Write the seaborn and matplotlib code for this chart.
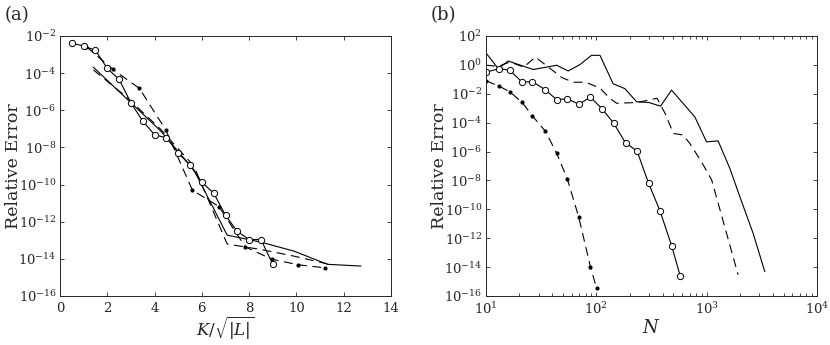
import numpy as np
import pandas as pd
import matplotlib
matplotlib.use("Agg")
import matplotlib.pyplot as plt
import seaborn as sns

# ---- panel (a): error vs K/sqrt(|L|) ----
a_circ_x = [0.5, 1.0, 1.5, 2.0, 2.5, 3.0, 3.5, 4.0, 4.5, 5.0, 5.5, 6.0, 6.5, 7.0, 7.5, 8.0, 8.5, 9.0]
a_circ_y = [4.1e-3, 2.9e-3, 1.7e-3, 1.8e-4, 4.6e-5, 2.5e-6, 2.6e-7, 4.8e-8, 3.3e-8, 5.1e-9,
            1.1e-9, 1.3e-10, 3.5e-11, 2.2e-12, 3.0e-13, 1.1e-13, 1.1e-13, 5.1e-15]

a_dot_x = [1.12, 2.24, 3.36, 4.48, 5.6, 6.72, 7.84, 8.96, 10.08, 11.2]
a_dot_y = [2.6e-3, 1.6e-4, 1.5e-5, 8.5e-8, 5.0e-11, 6.6e-12, 4.4e-14, 9.5e-15, 4.8e-15, 3.3e-15]

a_solid_x = [1.41, 2.83, 4.24, 5.66, 7.07, 8.49, 9.9, 11.31, 12.73]
a_solid_y = [2.1e-4, 4.1e-6, 8.1e-8, 6.3e-10, 1.9e-13, 8.0e-14, 2.6e-14, 5.1e-15, 4.1e-15]

a_dash_x = [1.41, 2.83, 4.24, 5.66, 7.07, 8.49, 9.9, 11.31]
a_dash_y = [1.5e-4, 5.0e-6, 1.0e-7, 1.0e-9, 6.3e-14, 3.2e-14, 1.4e-14, 5.4e-15]

# ---- panel (b): error vs N ----
b_circ_x = [10.1, 13.2, 16.4, 21.3, 26.3, 34.5, 43.6, 54.6, 69.4, 88.6, 113, 144, 184, 234, 298, 379, 482, 577]
b_circ_y = [0.32, 0.55, 0.43, 0.063, 0.07, 0.019, 4.0e-3, 4.5e-3, 1.9e-3, 5.8e-3, 9.0e-4, 9.0e-5,
            4.0e-6, 1.1e-6, 6.3e-9, 7.3e-11, 3.0e-13, 2.3e-15]

b_dot_x = [10.1, 13.2, 16.4, 21.3, 26.3, 34.5, 43.6, 54.6, 69.4, 88.6, 100.6]
b_dot_y = [0.078, 0.033, 0.014, 2.5e-3, 3.0e-4, 2.6e-5, 8.0e-7, 1.3e-8, 2.8e-11, 1.0e-14, 3.6e-16]

b_solid_x = [10, 12.9, 15.9, 26.8, 43.7, 55.6, 71, 90.5, 108, 142, 181, 232, 299, 382, 481,
             782, 998, 1271, 1622, 2060, 2637, 3365]
b_solid_y = [6.8, 0.56, 1.86, 0.48, 0.95, 0.38, 1.05, 4.6, 4.6, 0.05, 0.023, 2.8e-3, 2.5e-3, 1.4e-3,
             0.018, 2.5e-4, 4.7e-6, 5.5e-6, 6.9e-8, 4.0e-10, 2.2e-12, 4.9e-15]

b_dash_x = [10, 13, 16.5, 22, 28, 49, 62, 80, 108, 132, 153, 235, 355, 420, 500, 612, 705, 900, 1110, 1930]
b_dash_y = [0.95, 0.8, 1.6, 0.7, 3.5, 0.13, 0.063, 0.063, 0.025, 5.0e-3, 2.2e-3, 2.5e-3, 4.9e-3,
            4.4e-4, 1.8e-5, 1.4e-5, 3.6e-6, 1.9e-7, 1.1e-8, 2.9e-15]

a_yexp = [-16, -14, -12, -10, -8, -6, -4, -2]
b_yexp = [-16, -14, -12, -10, -8, -6, -4, -2, 0, 2]
b_xexp = [1, 2, 3, 4]

sns.set_style("ticks")
plt.rcParams["font.family"] = ["DejaVu Serif"]
plt.rcParams["mathtext.fontset"] = "dejavuserif"
plt.rcParams["xtick.direction"] = "in"
plt.rcParams["ytick.direction"] = "in"

dash = (0, (8, 5))
lw = 0.8

fig = plt.figure(figsize=(8.3, 3.45), dpi=100)
ax1 = fig.add_axes([0.0723, 0.142, 0.3988, 0.7536])
ax2 = fig.add_axes([0.5855, 0.142, 0.3988, 0.7536])

# panel a
sns.lineplot(x=a_solid_x, y=a_solid_y, ax=ax1, color="k", lw=lw, sort=False)
sns.lineplot(x=a_dash_x, y=a_dash_y, ax=ax1, color="k", lw=lw, linestyle=dash, sort=False)
sns.lineplot(x=a_dot_x, y=a_dot_y, ax=ax1, color="k", lw=lw, linestyle=dash, sort=False,
             marker="o", markersize=3, markeredgewidth=0)
sns.lineplot(x=a_circ_x, y=a_circ_y, ax=ax1, color="k", lw=lw, sort=False,
             marker="o", markersize=4.5, markerfacecolor="white", markeredgecolor="k", markeredgewidth=0.7)
ax1.set_yscale("log")
ax1.set_xlim(0, 14)
ax1.set_ylim(1e-16, 1e-2)
ax1.set_xticks([0, 2, 4, 6, 8, 10, 12, 14])
ax1.set_yticks([10.0 ** e for e in a_yexp])
ax1.set_yticklabels(["10$^{%d}$" % e for e in a_yexp])
ax1.minorticks_off()
ax1.set_xlabel(r"$K/\sqrt{|L|}$", fontsize=12, labelpad=0)
ax1.set_ylabel("Relative Error", fontsize=12.5)
ax1.yaxis.set_label_coords(-0.115, 0.5)

# panel b
sns.lineplot(x=b_solid_x, y=b_solid_y, ax=ax2, color="k", lw=lw, sort=False)
sns.lineplot(x=b_dash_x, y=b_dash_y, ax=ax2, color="k", lw=lw, linestyle=dash, sort=False)
sns.lineplot(x=b_dot_x, y=b_dot_y, ax=ax2, color="k", lw=lw, linestyle=dash, sort=False,
             marker="o", markersize=3, markeredgewidth=0)
sns.lineplot(x=b_circ_x, y=b_circ_y, ax=ax2, color="k", lw=lw, sort=False,
             marker="o", markersize=4.5, markerfacecolor="white", markeredgecolor="k", markeredgewidth=0.7)
ax2.set_xscale("log")
ax2.set_yscale("log")
ax2.set_xlim(10, 1e4)
ax2.set_ylim(1e-16, 1e2)
ax2.set_xticks([10.0 ** e for e in b_xexp])
ax2.set_xticklabels(["10$^{%d}$" % e for e in b_xexp])
ax2.set_yticks([10.0 ** e for e in b_yexp])
ax2.set_yticklabels(["10$^{%d}$" % e for e in b_yexp])
ax2.yaxis.set_minor_locator(matplotlib.ticker.NullLocator())
ax2.set_xlabel(r"$N$", fontsize=13, labelpad=1)
ax2.set_ylabel("Relative Error", fontsize=12.5)
ax2.yaxis.set_label_coords(-0.115, 0.5)

fig.text(0.005, 0.957, "(a)", fontsize=13, va="center")
fig.text(0.519, 0.957, "(b)", fontsize=13, va="center")

for ax in (ax1, ax2):
    ax.tick_params(which="both", top=True, right=True, labelsize=9.5, length=3, width=0.6)
    ax.tick_params(axis="y", pad=2.5)
    ax.tick_params(axis="x", pad=4)
    ax.tick_params(which="minor", length=2)
    for s in ax.spines.values():
        s.set_linewidth(0.7)

fig.savefig("out.png", dpi=100)
